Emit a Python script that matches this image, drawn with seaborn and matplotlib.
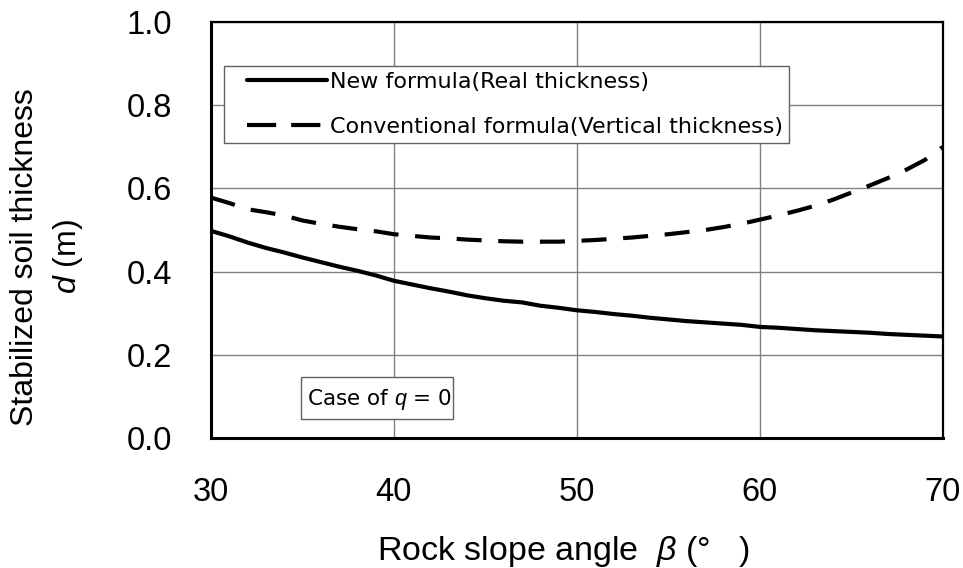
import numpy as np
import pandas as pd
import matplotlib
matplotlib.use("Agg")
import matplotlib.pyplot as plt
import seaborn as sns
from matplotlib.lines import Line2D
from matplotlib.patches import Rectangle
from matplotlib.legend_handler import HandlerLine2D

beta = list(range(30, 71))
new_formula = [0.498, 0.485, 0.470, 0.457, 0.446, 0.434, 0.423, 0.412, 0.402, 0.391,
               0.378, 0.369, 0.360, 0.352, 0.343, 0.336, 0.330, 0.326, 0.318, 0.313,
               0.307, 0.303, 0.298, 0.294, 0.289, 0.285, 0.281, 0.278, 0.275, 0.272,
               0.267, 0.265, 0.262, 0.259, 0.257, 0.255, 0.253, 0.250, 0.248, 0.246,
               0.244]
conventional = [0.578, 0.565, 0.550, 0.543, 0.535, 0.523, 0.515, 0.508, 0.502, 0.497,
                0.490, 0.486, 0.482, 0.480, 0.477, 0.475, 0.473, 0.472, 0.472, 0.472,
                0.474, 0.476, 0.479, 0.482, 0.486, 0.490, 0.495, 0.500, 0.507, 0.515,
                0.525, 0.535, 0.546, 0.558, 0.573, 0.590, 0.607, 0.625, 0.645, 0.668,
                0.700]
series_names = ["New formula(Real thickness)", "Conventional formula(Vertical thickness)"]
x_ticks = [30, 40, 50, 60, 70]
y_ticks = [0.0, 0.2, 0.4, 0.6, 0.8, 1.0]

sns.set_theme(style="white")
plt.rcParams['font.family'] = ['Liberation Sans', 'DejaVu Sans']
plt.rcParams['mathtext.fontset'] = 'custom'
plt.rcParams['mathtext.it'] = 'Liberation Sans:italic'
plt.rcParams['mathtext.rm'] = 'Liberation Sans'
for k in ['text.color', 'axes.labelcolor', 'xtick.color', 'ytick.color']:
    plt.rcParams[k] = 'black'

df = pd.DataFrame({
    "beta": beta * 2,
    "d": new_formula + conventional,
    "series": [series_names[0]] * len(beta) + [series_names[1]] * len(beta),
})

fig = plt.figure(figsize=(9.63, 5.68), dpi=100)
ax = fig.add_axes([0.219, 0.229, 0.760, 0.732])

sns.lineplot(data=df, x="beta", y="d", hue="series", style="series",
             palette=["black", "black"], dashes=[(None, None), (6, 4)],
             linewidth=3, ax=ax, legend=False)

ax.set_xlim(30, 70)
ax.set_ylim(0, 1.0)
ax.set_xticks(x_ticks)
ax.set_yticks(y_ticks)
ax.set_xticklabels([str(t) for t in x_ticks], fontsize=23.5)
ax.set_yticklabels([f"{t:.1f}" for t in y_ticks], fontsize=23.5)
ax.tick_params(axis='x', length=0, pad=28)
ax.tick_params(axis='y', length=0, pad=28)
ax.grid(True, color="#808080", linewidth=1)
ax.set_axisbelow(True)
for s in ["left", "bottom"]:
    ax.spines[s].set_color("black")
    ax.spines[s].set_linewidth(2.2)
for s in ["top", "right"]:
    ax.spines[s].set_color("black")
    ax.spines[s].set_linewidth(1.6)

ax.set_xlabel("Rock slope angle  $\\beta$ (°   )", fontsize=24.5)
ax.xaxis.label.set_verticalalignment("baseline")
ax.xaxis.set_label_coords(0.482, -0.293)
ax.set_ylabel("Stabilized soil thickness\n$d$ (m)", fontsize=23, linespacing=1.45)
ax.yaxis.set_label_coords(-0.172, 0.435)

leg_fs = 16
handles = [Line2D([0], [0], color="black", lw=3),
           Line2D([0], [0], color="black", lw=3, dashes=(7, 3.6))]
hmap = {h: HandlerLine2D(xpad=0.77) for h in handles}
leg = ax.legend(handles, series_names, loc="upper left",
                bbox_to_anchor=(0.0178, 0.894), borderaxespad=0,
                frameon=True, fancybox=False, edgecolor="#606060", framealpha=1,
                handlelength=4.37, handletextpad=0.14, borderpad=0.27,
                labelspacing=1.12, handler_map=hmap,
                prop={"family": ["DejaVu Sans"], "size": leg_fs})
leg.get_frame().set_linewidth(1)

ax.add_patch(Rectangle((0.123, 0.0457), 0.2076, 0.1009, transform=ax.transAxes,
                       facecolor="white", edgecolor="#606060", linewidth=1, zorder=5))
ax.text(0.2302, 0.0913, "Case of $q$ = 0", transform=ax.transAxes,
        fontsize=15.5, family=["DejaVu Sans"], ha="center", va="center", zorder=6)

fig.savefig("out.png", dpi=100)
